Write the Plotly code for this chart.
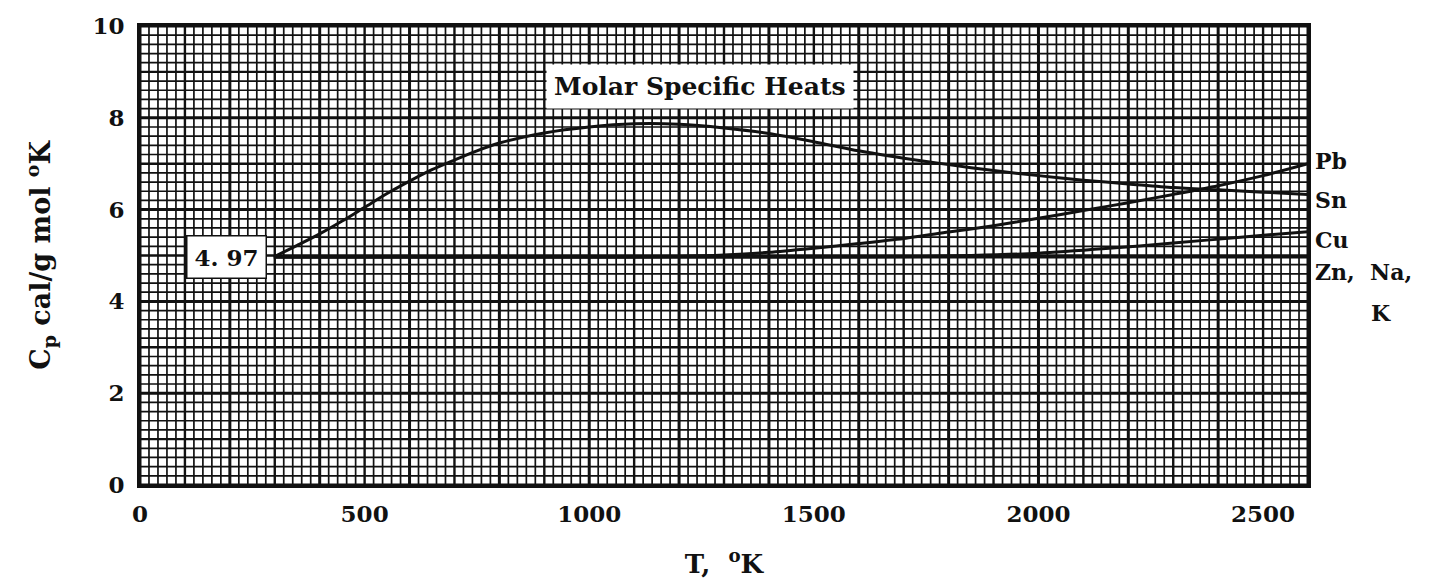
import plotly.graph_objects as go

# Temperature (K) and molar specific heat Cp (cal / g mol K)
t_zn = [298, 2600]
cp_zn = [4.97, 4.97]

t_cu = [298, 1600, 1750, 1850, 2000, 2150, 2300, 2450, 2600]
cp_cu = [4.97, 4.97, 4.98, 5.0, 5.05, 5.15, 5.27, 5.4, 5.52]

t_pb = [298, 1100, 1200, 1300, 1400, 1500, 1600, 1700, 1800, 1900, 2000,
        2100, 2200, 2300, 2400, 2500, 2600]
cp_pb = [4.97, 4.97, 4.98, 5.01, 5.07, 5.16, 5.26, 5.37, 5.51, 5.65, 5.81,
         5.98, 6.15, 6.33, 6.52, 6.74, 7.0]

t_sn = [298, 350, 400, 450, 500, 550, 600, 650, 700, 750, 800, 900, 1000,
        1100, 1200, 1300, 1400, 1500, 1600, 1700, 1800, 1900, 2000, 2100,
        2200, 2300, 2400, 2500, 2600]
cp_sn = [4.97, 5.22, 5.47, 5.75, 6.05, 6.35, 6.62, 6.87, 7.08, 7.28, 7.45,
         7.67, 7.8, 7.87, 7.86, 7.78, 7.66, 7.48, 7.28, 7.12, 6.98, 6.85,
         6.74, 6.64, 6.56, 6.48, 6.43, 6.38, 6.33]

x_ticks = [0, 500, 1000, 1500, 2000, 2500]
y_ticks = [0, 2, 4, 6, 8, 10]

X_MAX, Y_MAX = 2600, 10
INK = "#111111"
SERIF = "DejaVu Serif"

fig = go.Figure()

for tx, cy in [(t_zn, cp_zn), (t_cu, cp_cu), (t_pb, cp_pb), (t_sn, cp_sn)]:
    fig.add_trace(go.Scatter(
        x=tx, y=cy, mode="lines",
        line=dict(color=INK, width=3, shape="spline", smoothing=0.8),
        showlegend=False, hoverinfo="skip",
    ))

# Graph-paper grid: fine every 20 K / 0.2, medium every 100 K / 1, heavy every 200 K / 2
shapes = []
for k in range(0, X_MAX // 20 + 1):
    v = k * 20
    w = 3.0 if v % 200 == 0 else (2.4 if v % 100 == 0 else 1.7)
    shapes.append(dict(type="line", xref="x", yref="y", x0=v, x1=v, y0=0, y1=Y_MAX,
                       line=dict(color=INK, width=w), layer="below"))
for k in range(0, 51):
    v = k * 0.2
    w = 3.0 if k % 10 == 0 else (2.4 if k % 5 == 0 else 1.7)
    shapes.append(dict(type="line", xref="x", yref="y", x0=0, x1=X_MAX, y0=v, y1=v,
                       line=dict(color=INK, width=w), layer="below"))

label_font = dict(family=SERIF, size=22, color=INK, weight="bold")

annotations = [
    dict(x=1247, y=8.68, xref="x", yref="y", text="Molar Specific Heats",
         showarrow=False, bgcolor="white", borderpad=7,
         font=dict(family=SERIF, size=25, color=INK, weight="bold")),
    dict(x=282, y=4.97, xref="x", yref="y", text="4. 97", xanchor="right",
         showarrow=False, bgcolor="white", bordercolor=INK, borderwidth=1.5,
         borderpad=7, font=dict(family=SERIF, size=23, color=INK, weight="bold")),
]
for name, yv in [("Pb", 7.05), ("Sn", 6.2), ("Cu", 5.33), ("Zn,  Na,", 4.65)]:
    annotations.append(dict(x=1.004, y=yv, xref="paper", yref="y", text=name,
                            xanchor="left", yanchor="middle", showarrow=False,
                            font=label_font))
annotations.append(dict(x=1.052, y=3.75, xref="paper", yref="y", text="K",
                        xanchor="left", yanchor="middle", showarrow=False,
                        font=label_font))

fig.update_layout(
    width=1445, height=588,
    margin=dict(l=140, r=137, t=23, b=103),
    paper_bgcolor="white", plot_bgcolor="white",
    shapes=shapes, annotations=annotations,
    xaxis=dict(range=[0, X_MAX], tickvals=x_ticks, showgrid=False, zeroline=False,
               showline=True, linecolor=INK, linewidth=3, mirror=True,
               ticks="", ticklabelstandoff=6,
               tickfont=dict(family=SERIF, size=23, color=INK, weight="bold"),
               title=dict(text="T,  <sup>o</sup>K", standoff=30,
                          font=dict(family=SERIF, size=26, color=INK, weight="bold"))),
    yaxis=dict(range=[0, Y_MAX], tickvals=y_ticks, showgrid=False, zeroline=False,
               showline=True, linecolor=INK, linewidth=3, mirror=True,
               ticks="", ticklabelstandoff=8,
               tickfont=dict(family=SERIF, size=23, color=INK, weight="bold"),
               title=dict(text="C<sub>p</sub> cal/g mol <sup>o</sup>K", standoff=34,
                          font=dict(family=SERIF, size=27, color=INK, weight="bold"))),
)

fig.write_html("out.html")
